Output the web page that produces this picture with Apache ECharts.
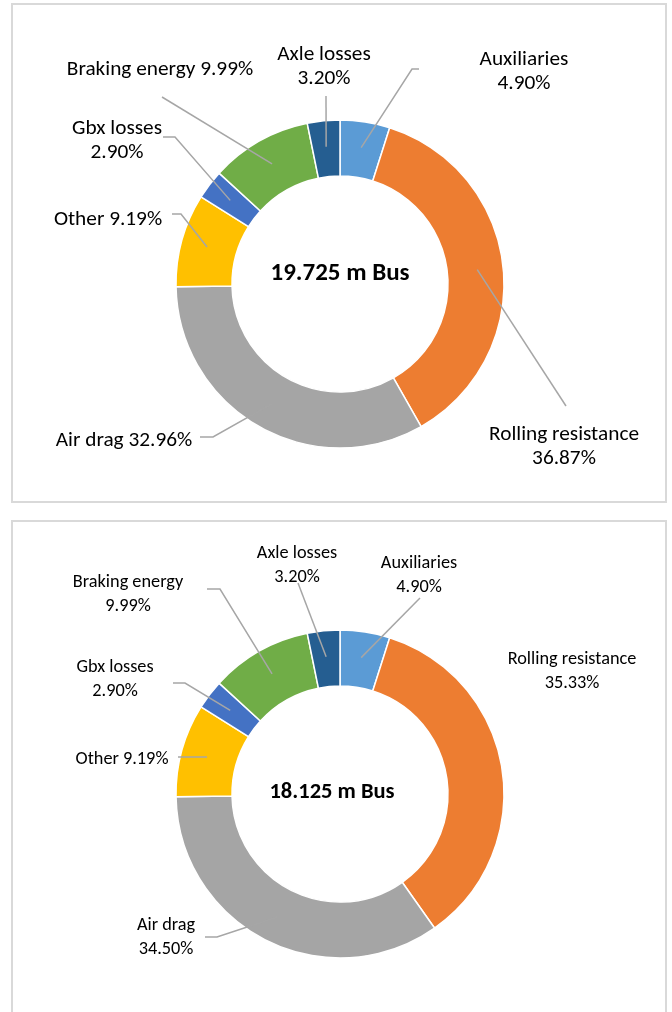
<!DOCTYPE html>
<html>
<head>
<meta charset="utf-8">
<script src="https://cdn.jsdelivr.net/npm/echarts@6/dist/echarts.min.js"></script>
<style>
  html, body { margin: 0; padding: 0; background: #fff; }
  #chart { width: 672px; height: 1012px; }
</style>
</head>
<body>
<div id="chart"></div>
<script>
// data
const categories = ["Auxiliaries", "Rolling resistance", "Air drag", "Other", "Gbx losses", "Braking energy", "Axle losses"];
const bus19Values = [4.90, 36.87, 32.96, 9.19, 2.90, 9.99, 3.20];
const bus18Values = [4.90, 35.33, 34.50, 9.19, 2.90, 9.99, 3.20];
const busNames = ["19.725 m Bus", "18.125 m Bus"];

const colors = ["#5B9BD5", "#ED7D31", "#A5A5A5", "#FFC000", "#4472C4", "#70AD47", "#255E91"];
const lineColor = "#a6a6a6";
const fontFamily = "Carlito, Calibri, Lato, sans-serif";

// label placement (text centre, wrap to two lines, leader line points near the label)
const panels = [
  {
    values: bus19Values,
    center: [340, 284],
    titlePos: [340, 274],
    fontSize: 21.3,
    titleSize: 25,
    lineHeight: 24,
    labels: [
      { pos: [524, 72], wrap: true, line: [[412, 69], [419, 69]] },
      { pos: [564, 447], wrap: true, line: [[566, 406]] },
      { pos: [124, 441], wrap: false, line: [[213, 437], [200, 437]] },
      { pos: [108, 220], wrap: false, line: [[181, 214], [172, 214]] },
      { pos: [117, 141], wrap: true, line: [[175, 137], [163, 137]] },
      { pos: [160, 70], wrap: false, line: [[162, 97]] },
      { pos: [324, 67], wrap: true, line: [[326, 96]] }
    ]
  },
  {
    values: bus18Values,
    center: [340, 794],
    titlePos: [332, 792],
    fontSize: 18.3,
    titleSize: 22.5,
    lineHeight: 24,
    labels: [
      { pos: [419, 575], wrap: true, line: [[420, 598]] },
      { pos: [572, 671], wrap: true, line: null },
      { pos: [166, 937], wrap: true, line: [[217, 937], [205, 937]] },
      { pos: [122, 759], wrap: false, line: [[190, 757], [178, 757]] },
      { pos: [115, 679], wrap: true, line: [[185, 683], [173, 683]] },
      { pos: [128, 594], wrap: true, line: [[220, 589], [207, 589]] },
      { pos: [297, 565], wrap: true, line: [[298, 583]] }
    ]
  }
];

const innerR = 108;
const outerR = 164;
const lineR = 138;

// point in the ring at the middle angle of slice i
function midPoint(values, center, i) {
  const total = values.reduce((a, b) => a + b, 0);
  let before = 0;
  for (let k = 0; k < i; k++) before += values[k];
  const frac = (before + values[i] / 2) / total;
  const ang = frac * Math.PI * 2;
  return [center[0] + lineR * Math.sin(ang), center[1] - lineR * Math.cos(ang)];
}

const chart = echarts.init(document.getElementById("chart"));

const series = [];
panels.forEach((p) => {
  const base = {
    type: "pie",
    center: p.center,
    radius: [innerR, outerR],
    startAngle: 90,
    clockwise: true,
    avoidLabelOverlap: false,
    animation: false,
    silent: true
  };
  // coloured ring
  series.push(Object.assign({}, base, {
    z: 2,
    itemStyle: { borderColor: "#fff", borderWidth: 1.5 },
    label: { show: false },
    labelLine: { show: false },
    data: categories.map((c, i) => ({ name: c, value: p.values[i], itemStyle: { color: colors[i] } }))
  }));
  // labels and leader lines drawn on top of the ring
  series.push(Object.assign({}, base, {
    z: 3,
    itemStyle: { color: "rgba(0,0,0,0)", borderWidth: 0 },
    label: {
      show: true,
      position: "outside",
      color: "#000",
      fontFamily: fontFamily,
      fontSize: p.fontSize,
      lineHeight: p.lineHeight,
      formatter: (d) => {
        const sep = p.labels[d.dataIndex].wrap ? "\n" : " ";
        return d.name + sep + d.value.toFixed(2) + "%";
      }
    },
    labelLine: {
      show: true,
      lineStyle: { color: lineColor, width: 1.5 }
    },
    labelLayout: (params) => {
      const cfg = p.labels[params.dataIndex];
      const start = midPoint(p.values, p.center, params.dataIndex);
      let pts = [start, start, start];
      if (cfg.line) {
        pts = [start].concat(cfg.line);
        if (pts.length < 3) pts.push(pts[pts.length - 1]);
      }
      return {
        x: cfg.pos[0],
        y: cfg.pos[1],
        align: "center",
        verticalAlign: "middle",
        labelLinePoints: pts
      };
    },
    data: categories.map((c, i) => ({ name: c, value: p.values[i] }))
  }));
});

const graphics = [
  { type: "rect", shape: { x: 12, y: 4, width: 654, height: 498 }, style: { fill: "none", stroke: "#d9d9d9", lineWidth: 2 }, silent: true },
  { type: "rect", shape: { x: 12, y: 521, width: 654, height: 500 }, style: { fill: "none", stroke: "#d9d9d9", lineWidth: 2 }, silent: true }
].concat(panels.map((p, s) => ({
  type: "text",
  x: p.titlePos[0],
  y: p.titlePos[1],
  z: 10,
  style: {
    text: busNames[s],
    fill: "#000",
    font: "bold " + p.titleSize + "px " + fontFamily,
    textAlign: "center",
    textVerticalAlign: "middle"
  },
  silent: true
})));

chart.setOption({
  animation: false,
  graphic: graphics,
  series: series
});
</script>
</body>
</html>
